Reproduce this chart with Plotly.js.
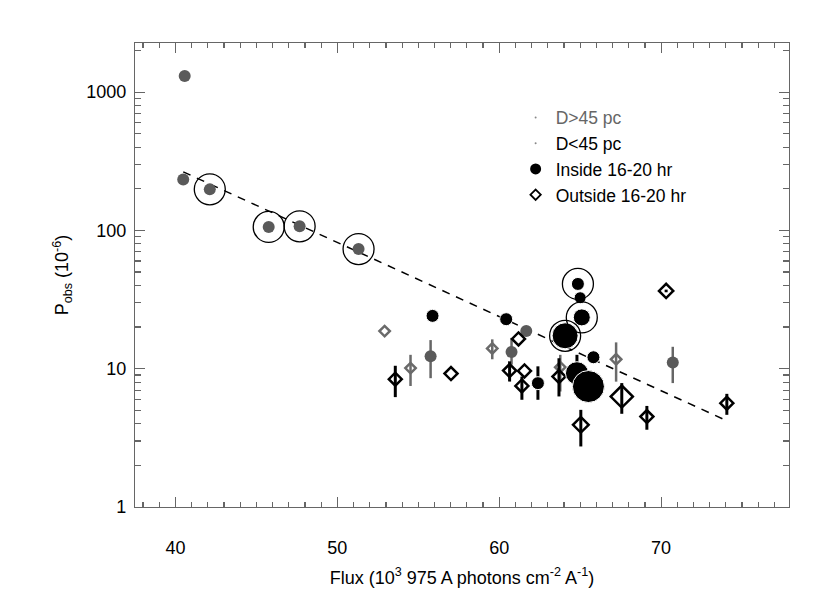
<!DOCTYPE html>
<html>
<head>
<meta charset="utf-8">
<script src="https://cdn.plot.ly/plotly-3.0.1.min.js"></script>
<style>body{margin:0;background:#fff}</style>
</head>
<body>
<div id="chart" style="width:830px;height:593px"></div>
<script>
// D>45 pc, inside 16-20 hr (grey dots)
var farInX  = [40.57, 40.48, 42.12, 45.76, 47.67, 51.31, 55.76, 61.67, 60.76, 70.72];
var farInY  = [1307, 233, 198, 106, 107, 73.3, 12.3, 18.7, 13.2, 11.1];
var farInHi = [null, null, null, null, null, null, 16.1, null, 16.7, 14.4];
var farInLo = [null, null, null, null, null, null, 8.54, null, 10.7, 7.87];

// D<45 pc, inside 16-20 hr (black dots, size varies)
var nearInX  = [55.88, 60.43, 62.39, 64.07, 64.86, 65.0, 65.1, 65.82, 64.80, 65.51];
var nearInY  = [24.1, 22.8, 7.86, 17.3, 41, 32.6, 23.5, 12.1, 9.28, 7.43];
var nearInHi = [null, 24.5, 10.4, null, null, null, null, null, 12.6, null];
var nearInLo = [null, 21.2, 5.96, null, null, null, null, null, null, null];
var nearInSz = [13, 13, 13, 26, 13, 12, 17, 13, 23, 32];

// D>45 pc, outside 16-20 hr (grey diamonds)
var farOutX  = [52.92, 54.52, 59.57, 63.77, 67.22];
var farOutY  = [18.7, 10.1, 14.0, 10.26, 11.7];
var farOutHi = [null, 12.6, 16.3, 12.6, 15.5];
var farOutLo = [null, 7.5, 11.7, 6.84, 8.06];

// D<45 pc, outside 16-20 hr (black diamonds)
var nearOutX  = [53.58, 57.02, 61.19, 60.64, 61.56, 61.40, 63.69, 65.04, 67.57, 69.12, 70.31, 74.06];
var nearOutY  = [8.4, 9.22, 16.4, 9.69, 9.64, 7.51, 8.77, 3.93, 6.29, 4.51, 36.5, 5.63];
var nearOutHi = [10.5, null, null, 11.3, null, 8.77, 11.9, 5.04, 7.87, 5.38, 37.3, 6.58];
var nearOutLo = [6.23, null, null, 8.07, null, 5.96, 6.3, 2.74, 4.72, 3.62, 35.7, 4.64];
var nearOutSz = [10, 10, 10, 10, 10, 10, 10, 12, 17, 10, 11, 10];

// circled points
var ringX = [42.12, 45.76, 47.67, 51.31, 64.07, 64.86, 65.1];
var ringY = [198, 106, 107, 73.3, 17.3, 41, 23.5];

// fitted relation
var fitX = [40.48, 74.06];
var fitY = [265, 4.2];

function up(y, hi) { return y.map(function (v, i) { return hi[i] == null ? 0 : hi[i] - v; }); }
function dn(y, lo) { return y.map(function (v, i) { return lo[i] == null ? 0 : v - lo[i]; }); }

var grey = '#5a5a5a';

var data = [
  {
    x: fitX, y: fitY, type: 'scatter', mode: 'lines', showlegend: false,
    line: {color: 'black', width: 1.5, dash: '8px,7px'}
  },
  {
    x: farInX, y: farInY, type: 'scatter', mode: 'markers', showlegend: false,
    marker: {color: grey, size: 12, symbol: 'circle', opacity: 1},
    error_y: {type: 'data', array: up(farInY, farInHi), arrayminus: dn(farInY, farInLo),
              color: '#666', thickness: 2.5, width: 0}
  },
  {
    x: farOutX, y: farOutY, type: 'scatter', mode: 'markers', showlegend: false,
    marker: {color: '#6a6a6a', size: 8, symbol: 'diamond-open', opacity: 1, line: {width: 2.5, color: '#6a6a6a'}},
    error_y: {type: 'data', array: up(farOutY, farOutHi), arrayminus: dn(farOutY, farOutLo),
              color: '#6a6a6a', thickness: 2.5, width: 0}
  },
  {
    x: nearOutX, y: nearOutY, type: 'scatter', mode: 'markers', showlegend: false,
    marker: {color: 'black', size: nearOutSz, symbol: 'diamond-open', opacity: 1, line: {width: 2.5, color: 'black'}},
    error_y: {type: 'data', array: up(nearOutY, nearOutHi), arrayminus: dn(nearOutY, nearOutLo),
              color: 'black', thickness: 3, width: 0}
  },
  {
    x: nearInX, y: nearInY, type: 'scatter', mode: 'markers', showlegend: false,
    marker: {color: 'black', size: nearInSz, symbol: 'circle', opacity: 1},
    error_y: {type: 'data', array: up(nearInY, nearInHi), arrayminus: dn(nearInY, nearInLo),
              color: 'black', thickness: 3, width: 0}
  },
  {
    x: ringX, y: ringY, type: 'scatter', mode: 'markers', showlegend: false,
    marker: {color: 'black', size: 31, symbol: 'circle-open', opacity: 1, line: {width: 1.3, color: 'black'}}
  },
  // legend entries
  {x: [null], y: [null], type: 'scatter', mode: 'markers', name: '<span style="color:#666">D>45 pc</span>',
   marker: {color: '#888', size: 2}},
  {x: [null], y: [null], type: 'scatter', mode: 'markers', name: 'D<45 pc',
   marker: {color: '#888', size: 2}},
  {x: [null], y: [null], type: 'scatter', mode: 'markers', name: 'Inside 16-20 hr',
   marker: {color: 'black', size: 11, symbol: 'circle'}},
  {x: [null], y: [null], type: 'scatter', mode: 'markers', name: 'Outside 16-20 hr',
   marker: {color: 'black', size: 8, symbol: 'diamond-open', line: {width: 1.8, color: 'black'}}}
];

var axisCommon = {
  showgrid: false, zeroline: false, showline: true, linecolor: '#666', linewidth: 1.2,
  mirror: 'ticks', ticks: 'inside', tickcolor: '#666', tickwidth: 1.2, ticklen: 10,
  tickfont: {size: 18, color: 'black'}
};

var layout = {
  width: 830, height: 593,
  margin: {l: 135, r: 41, t: 43, b: 86},
  paper_bgcolor: 'white', plot_bgcolor: 'white',
  font: {family: 'Liberation Sans, Arial, sans-serif', size: 18, color: 'black'},
  showlegend: true,
  legend: {x: 0.582, y: 0.878, xanchor: 'left', yanchor: 'top', bgcolor: 'rgba(0,0,0,0)',
           font: {size: 17.5}, itemwidth: 30},
  xaxis: Object.assign({}, axisCommon, {
    range: [37.5, 77.9], dtick: 10, tick0: 0, ticklabelstandoff: 24,
    minor: {dtick: 1, ticks: 'inside', ticklen: 5, tickcolor: '#666', tickwidth: 1.2},
    title: {text: 'Flux (10<sup>3</sup> 975 A photons cm<sup>-2</sup> A<sup>-1</sup>)', font: {size: 18}, standoff: 14}
  }),
  yaxis: Object.assign({}, axisCommon, {
    type: 'log', range: [0, 3.355], dtick: 1, exponentformat: 'none', ticklabelstandoff: 4,
    minor: {dtick: 'D1', ticks: 'inside', ticklen: 6, tickcolor: '#666', tickwidth: 1.2},
    title: {text: 'P<sub>obs</sub> (10<sup>-6</sup>)', font: {size: 18}, standoff: 12}
  })
};

Plotly.newPlot('chart', data, layout, {displayModeBar: false, staticPlot: true});
</script>
</body>
</html>
